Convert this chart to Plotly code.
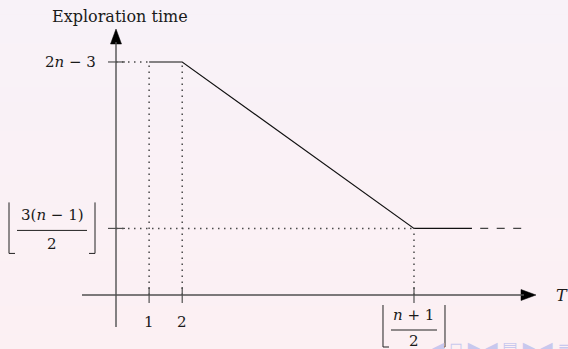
import plotly.graph_objects as go

# ---------------- data ----------------
T_ticks = [1, 2, 9]                     # positions of tick labels 1, 2, floor((n+1)/2)
T_tick_labels = ["1", "2", "floor((n+1)/2)"]
time_high = 7                           # 2n - 3
time_low = 2                            # floor(3(n-1)/2)
time_tick_labels = ["2n − 3", "floor(3(n−1)/2)"]
curve_T = [1, 2, 9, 10.75]              # solid part of the curve
curve_time = [7, 7, 2, 2]
tail_T = [11.0, 12.25]                  # dashed continuation
tail_time = [2, 2]

# ---------------- geometry (pixel scale) ----------------
W, H = 568, 349
OX, OY = 116, 295          # pixel position of data origin
SX, SY = 33.11, 33.29      # px per data unit

def dx(p):  # pixel length -> data x length
    return p / SX

def dy(p):
    return p / SY

def X(px):  # absolute pixel -> data
    return (px - OX) / SX

def Y(py):
    return (OY - py) / SY

xr = [X(0), X(W)]
yr = [Y(H), Y(0)]

AX = "#505050"
DOT = "#4a4a4a"
SERIF = "DejaVu Serif, Liberation Serif, serif"

fig = go.Figure()
shapes = []

# background gradient
top = (248, 242, 248)
bot = (252, 240, 243)
N = 24
for i in range(N):
    t = i / (N - 1)
    c = tuple(round(top[k] + (bot[k] - top[k]) * t) for k in range(3))
    shapes.append(dict(type="rect", xref="paper", yref="paper",
                       x0=0, x1=1, y0=1 - (i + 1) / N, y1=1 - i / N,
                       fillcolor="rgb(%d,%d,%d)" % c, line=dict(width=0), layer="below"))

def seg(x0, y0, x1, y1, color, width, dash="solid"):
    shapes.append(dict(type="line", xref="x", yref="y", x0=x0, y0=y0, x1=x1, y1=y1,
                       line=dict(color=color, width=width, dash=dash)))

dotdash = "1.5px,4.5px"

# dotted guide lines
seg(0, time_high, curve_T[0], time_high, DOT, 1.5, dotdash)
seg(0, time_low, T_ticks[2], time_low, DOT, 1.5, dotdash)
for t in T_ticks[:2]:
    seg(t, 0, t, time_high, DOT, 1.5, dotdash)
seg(T_ticks[2], 0, T_ticks[2], time_low, DOT, 1.5, dotdash)

# axes
seg(X(82), 0, X(524), 0, AX, 1.4)
seg(0, Y(327), 0, Y(42), AX, 1.4)

# ticks
for t in T_ticks:
    seg(t, dy(-8), t, dy(8), AX, 1.2)
for v in [time_high, time_low]:
    seg(dx(-8), v, dx(9), v, AX, 1.2)

# curve
fig.add_trace(go.Scatter(x=curve_T, y=curve_time, mode="lines",
                         line=dict(color="#111111", width=1.1), hoverinfo="skip"))
fig.add_trace(go.Scatter(x=tail_T, y=tail_time, mode="lines",
                         line=dict(color="#444444", width=1.2, dash="8px,8.5px"), hoverinfo="skip"))

# arrow heads
ax_tip = X(536)
fig.add_trace(go.Scatter(x=[ax_tip, ax_tip - dx(15), ax_tip - dx(15), ax_tip],
                         y=[0, dy(5.5), dy(-5.5), 0], mode="lines", fill="toself",
                         fillcolor="black", line=dict(color="black", width=0.5), hoverinfo="skip"))
ay_tip = Y(29)
fig.add_trace(go.Scatter(x=[0, dx(5.5), dx(-5.5), 0],
                         y=[ay_tip, ay_tip - dy(15), ay_tip - dy(15), ay_tip], mode="lines", fill="toself",
                         fillcolor="black", line=dict(color="black", width=0.5), hoverinfo="skip"))

ann = []

def text(x, y, s, size=15, xanchor="center", yanchor="middle", color="#1a1a1a"):
    ann.append(dict(x=x, y=y, xref="x", yref="y", text=s, showarrow=False,
                    xanchor=xanchor, yanchor=yanchor,
                    font=dict(family=SERIF, size=size, color=color)))

# axis titles
text(X(120), Y(16), "Exploration time", size=16)
text(X(562), 0, "<i>T</i>", size=16)

# x tick labels
text(T_ticks[0], dy(-27), T_tick_labels[0], size=15)
text(T_ticks[1], dy(-27), T_tick_labels[1], size=15)

# y tick label 2n-3
text(dx(-18), time_high, "2<i>n</i> − 3", size=15, xanchor="right")

def floor_frac(cx, cy, num, den, half_w, top_px, bot_px, br_gap, den_off=14):
    # fraction bar
    seg(cx - dx(half_w), cy, cx + dx(half_w), cy, "#222222", 1)
    text(cx, cy + dy(15), num, size=15)
    text(cx, cy - dy(den_off), den, size=15)
    lx = cx - dx(half_w + br_gap)
    rx = cx + dx(half_w + br_gap)
    for bx, sgn in [(lx, 1), (rx, -1)]:
        seg(bx, cy + dy(top_px), bx, cy - dy(bot_px), "#222222", 1)
        seg(bx, cy - dy(bot_px), bx + sgn * dx(6), cy - dy(bot_px), "#222222", 1)

# left fraction (y tick floor(3(n-1)/2))
floor_frac(X(52), time_low - dy(2), "3(<i>n</i> − 1)", "2", 35, 28, 23, 8)
# bottom fraction (x tick floor((n+1)/2))
floor_frac(T_ticks[2], dy(-35), "<i>n</i> + 1", "2", 23, 25, 17, 8, den_off=11)

# beamer navigation symbols (faint)
ann.append(dict(x=1.008, y=0.004, xref="paper", yref="paper", xanchor="right", yanchor="middle",
                text="◀ ◻ ▶ ◀ ▤ ▶ ◀ ≡", showarrow=False,
                font=dict(family="DejaVu Sans", size=16, color="#c8c8ee")))

fig.update_layout(
    width=W, height=H, margin=dict(l=0, r=0, t=0, b=0),
    paper_bgcolor="#faf1f6", plot_bgcolor="rgba(0,0,0,0)",
    showlegend=False, shapes=shapes, annotations=ann,
    xaxis=dict(range=xr, visible=False, fixedrange=True),
    yaxis=dict(range=yr, visible=False, fixedrange=True),
)
fig.write_html("out.html", config={"displayModeBar": False},
               post_script="document.body.style.margin='0';document.body.style.overflow='hidden';")
